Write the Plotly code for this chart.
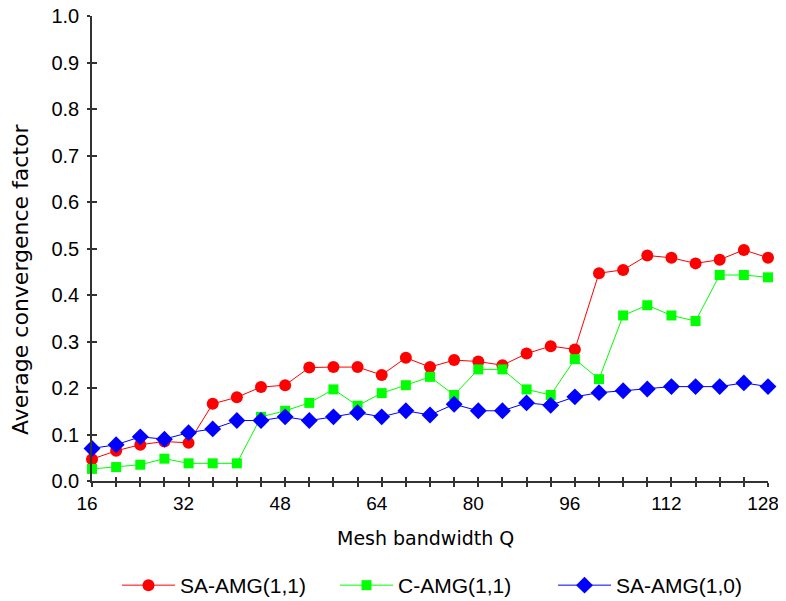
import plotly.graph_objects as go

q = list(range(16, 129, 4))
sa11 = [0.047, 0.065, 0.078, 0.085, 0.082, 0.166, 0.180, 0.202, 0.206, 0.244, 0.245, 0.245, 0.228,
        0.265, 0.245, 0.260, 0.257, 0.249, 0.274, 0.290, 0.283, 0.447, 0.454, 0.485, 0.480, 0.468,
        0.476, 0.497, 0.480]
c11 = [0.026, 0.030, 0.035, 0.048, 0.038, 0.038, 0.038, 0.138, 0.151, 0.168, 0.197, 0.162, 0.189,
       0.206, 0.224, 0.185, 0.240, 0.240, 0.197, 0.185, 0.262, 0.219, 0.356, 0.378, 0.356, 0.344,
       0.443, 0.443, 0.438]
sa10 = [0.070, 0.078, 0.095, 0.090, 0.104, 0.112, 0.130, 0.130, 0.138, 0.130, 0.138, 0.147, 0.138,
        0.151, 0.142, 0.165, 0.151, 0.151, 0.168, 0.163, 0.181, 0.190, 0.194, 0.198, 0.203, 0.203,
        0.203, 0.211, 0.203]
x_ticks = [16, 32, 48, 64, 80, 96, 112, 128]
y_ticks = [0.0, 0.1, 0.2, 0.3, 0.4, 0.5, 0.6, 0.7, 0.8, 0.9, 1.0]

font = "Liberation Sans, Arial, Helvetica, sans-serif"
W, H = 770, 593
AX = "#333333"

fig = go.Figure()
fig.add_trace(go.Scatter(x=q, y=sa11, name="SA-AMG(1,1)", mode="lines+markers",
                         line=dict(color="#ff0000", width=1),
                         marker=dict(symbol="circle", size=12, color="#ff0000"),
                         cliponaxis=False))
fig.add_trace(go.Scatter(x=q, y=c11, name="C-AMG(1,1)", mode="lines+markers",
                         line=dict(color="#00ff00", width=1),
                         marker=dict(symbol="square", size=10, color="#00ff00"),
                         cliponaxis=False))
fig.add_trace(go.Scatter(x=q, y=sa10, name="SA-AMG(1,0)", mode="lines+markers",
                         line=dict(color="#0000ff", width=1),
                         marker=dict(symbol="diamond", size=13, color="#0000ff"),
                         cliponaxis=False))
# empty trace hosting the overlay axes that draw the inner half of the crossing ticks
fig.add_trace(go.Scatter(x=[], y=[], xaxis="x2", yaxis="y2", showlegend=False,
                         hoverinfo="skip"))

fig.update_layout(
    width=W, height=H,
    margin=dict(l=84, r=W - 760, t=8, b=H - 473, autoexpand=False),
    paper_bgcolor="white", plot_bgcolor="white",
    font=dict(family=font, size=19, color="black"),
    showlegend=True,
    legend=dict(orientation="h", xref="container", yref="container",
                x=109/W, xanchor="left", y=1-577.5/H, yanchor="middle",
                entrywidth=150, entrywidthmode="pixels",
                font=dict(size=21), itemwidth=53),
    annotations=[
        dict(text="Mesh bandwidth Q", xref="paper", yref="paper", x=(425-92)/676,
             y=-(538-481)/465, xanchor="center", yanchor="middle", showarrow=False,
             font=dict(family="DejaVu Sans, sans-serif", size=19)),
        dict(text="Average convergence factor", xref="paper", yref="paper",
             x=-(92-20)/676, y=(481-279)/465, xanchor="center", yanchor="middle",
             textangle=-90, showarrow=False,
             font=dict(family="DejaVu Sans, sans-serif", size=22)),
    ],
    xaxis=dict(range=[16, 128], tickvals=x_ticks, ticktext=[str(v) for v in x_ticks],
               showgrid=False, zeroline=False, showline=True, linecolor=AX, linewidth=1.5,
               ticks="outside", ticklen=4, tickwidth=1.5, tickcolor=AX,
               tickfont=dict(size=19), ticklabeloverflow="allow", ticklabelshift=-5,
               minor=dict(dtick=4, tick0=16, ticks="outside", ticklen=4, tickwidth=1.5,
                          tickcolor=AX, showgrid=False)),
    yaxis=dict(range=[0, 1], tickvals=y_ticks, ticktext=[f"{v:.1f}" for v in y_ticks],
               showgrid=False, zeroline=False, showline=True, linecolor=AX, linewidth=1.5,
               ticks="outside", ticklen=3, tickwidth=1.5, tickcolor=AX,
               tickfont=dict(size=20), ticklabeloverflow="allow", ticklabelstandoff=4),
    xaxis2=dict(range=[16, 128], overlaying="x", anchor="y2", side="bottom",
                tickvals=x_ticks, showticklabels=False, showgrid=False, zeroline=False,
                showline=False, ticks="inside", ticklen=4, tickwidth=1.5, tickcolor=AX,
                minor=dict(dtick=4, tick0=16, ticks="inside", ticklen=4, tickwidth=1.5,
                           tickcolor=AX, showgrid=False)),
    yaxis2=dict(range=[0, 1], overlaying="y", anchor="x2", side="left",
                tickvals=y_ticks, showticklabels=False, showgrid=False, zeroline=False,
                showline=False, ticks="inside", ticklen=5, tickwidth=1.5, tickcolor=AX),
)

fig.write_html("out.html")
